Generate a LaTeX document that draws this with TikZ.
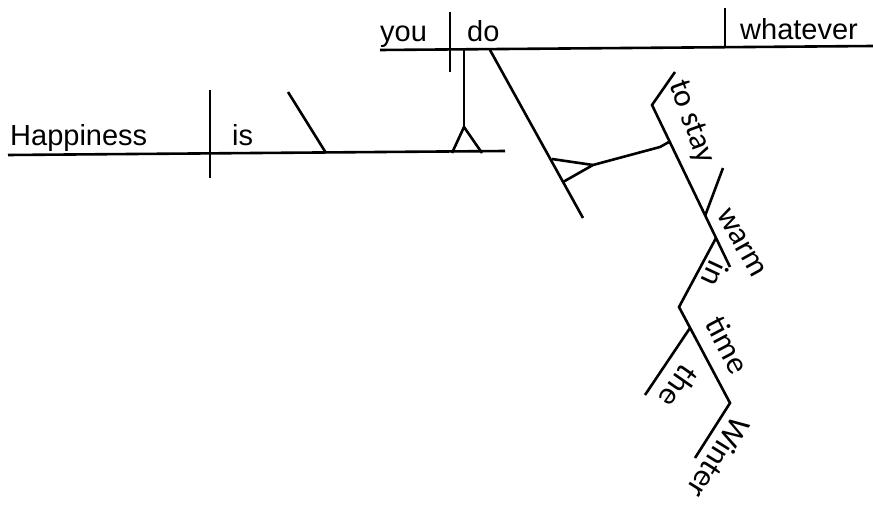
\documentclass[tikz,border=0pt]{standalone}
\usepackage{fontspec}
\setmainfont{Liberation Sans}
\newfontfamily\calfont{Carlito}
\begin{document}
\begin{tikzpicture}[x=1pt,y=-1pt,
  ln/.style={line width=2.6pt},
  word/.style={font=\fontsize{29}{34}\selectfont, inner sep=0pt, anchor=base west},
  rword/.style={font=\calfont\fontsize{32}{36}\selectfont, inner sep=0pt}]
\useasboundingbox[fill=white] (0,0) rectangle (873,505);
% words on horizontal lines
\node[word] (happiness) at (10,146) {Happiness};
\node[word] (is) at (232,146) {is};
\node[word] (you) at (380,42) {you};
\node[word] (do) at (467,42) {do};
\node[word] (whatever) at (740,40) {whatever};
% coordinates
\coordinate (m1) at (8,155);
\coordinate (m2) at (505,151);
\coordinate (sv1) at (210,90);
\coordinate (sv2) at (210,178);
\coordinate (pn1) at (288,92);
\coordinate (pn2) at (326,153);
\coordinate (t1) at (452,153);
\coordinate (t2) at (482,153);
\coordinate (tA) at (464,127);
\coordinate (s1) at (464,49);
\coordinate (u1) at (380,50);
\coordinate (u2) at (873,46);
\coordinate (yd1) at (450,12);
\coordinate (yd2) at (450,72);
\coordinate (wd1) at (725,8);
\coordinate (wd2) at (725,47);
\coordinate (d1) at (490,50);
\coordinate (d2) at (583,218);
\coordinate (q1) at (552,159);
\coordinate (q2) at (563,182);
\coordinate (qA) at (593,165);
\coordinate (q3) at (660,147);
\coordinate (q4) at (669,142);
\coordinate (f1) at (652,105);
\coordinate (f2) at (730,267);
\coordinate (to1) at (675,72);
\coordinate (w1) at (723,168);
\coordinate (w2) at (705,216);
\coordinate (i1) at (716,238);
\coordinate (i2) at (679,307);
\coordinate (tm2) at (730,403);
\coordinate (th1) at (690,328);
\coordinate (th2) at (645,395);
\coordinate (wn2) at (695,458);
% lines
\draw[ln] (m1) -- (m2);
\draw[ln] (sv1) -- (sv2);
\draw[ln] (pn1) -- (pn2);
\draw[ln] (t1) -- (tA) -- (t2);
\draw[ln] (tA) -- (s1);
\draw[ln] (u1) -- (u2);
\draw[ln] (yd1) -- (yd2);
\draw[ln] (wd1) -- (wd2);
\draw[ln] (d1) -- (d2);
\draw[ln] (q1) -- (qA);
\draw[ln] (q2) -- (qA) -- (q3) -- (q4);
\draw[ln] (to1) -- (f1) -- (f2);
\draw[ln] (w1) -- (w2);
\draw[ln] (i1) -- (i2) -- (tm2) -- (wn2);
\draw[ln] (th1) -- (th2);
% rotated words
\node[rword, rotate=-70] (tostay) at (691,122) {to stay};
\node[rword, rotate=-61] (warm) at (741,243) {warm};
\node[rword, rotate=-115] (in) at (715,274) {in};
\node[rword, rotate=-62] (time) at (728,345) {time};
\node[rword, rotate=-125] (the) at (679,387) {the};
\node[rword, rotate=-122] (winter) at (719,458) {Winter};
\end{tikzpicture}
\end{document}
